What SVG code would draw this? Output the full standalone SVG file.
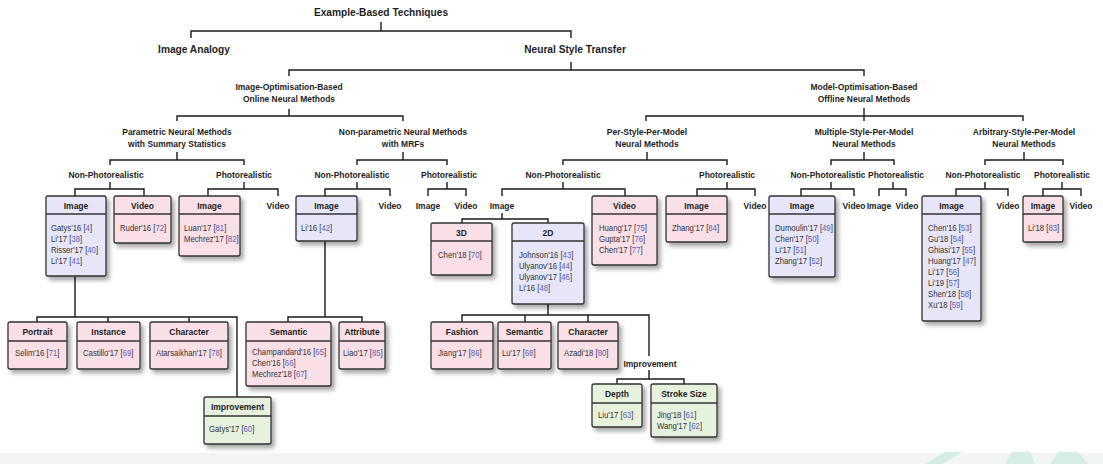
<svg xmlns="http://www.w3.org/2000/svg" width="1103" height="464" viewBox="0 0 1103 464">
<defs>
<filter id="sh" x="-20%" y="-20%" width="150%" height="150%">
<feDropShadow dx="3" dy="3.5" stdDeviation="2" flood-color="#000" flood-opacity="0.35"/>
</filter>
<style>
.t{font-family:'Liberation Sans',Arial,sans-serif;font-weight:bold;fill:#1e1e1e;text-anchor:middle;transform-box:fill-box;transform-origin:center;transform:scaleX(0.9)}
.t0{font-size:11.3px}
.t1{font-size:9.4px}
.b{font-family:'Liberation Sans',Arial,sans-serif;font-size:8.6px;fill:#333;transform-box:fill-box;transform-origin:left center;transform:scaleX(0.9)}
.r{fill:#5c5cb8}
.bx{stroke:#333;stroke-width:1.3;filter:url(#sh)}
.blue{fill:#e6e6f8}
.pink{fill:#f9dfe6}
.green{fill:#e7f2de}
.sep{stroke:#333;stroke-width:1.3}
.c path{fill:none;stroke:#1a1a1a;stroke-width:1.4}
</style>
</defs>
<rect x="0" y="0" width="1103" height="464" fill="#fff"/>
<rect x="0" y="453" width="1103" height="11" fill="#f3f4f4"/>
<g fill="#d6ede6">
<polygon points="925,464 945,452 962,452 942,464"/>
<polygon points="1005,464 1012,452 1030,452 1035,464"/>
<polygon points="1050,464 1058,452 1078,452 1088,464"/>
</g>

<g id="connectors" class="c">
<path d="M381,22V31M191,38V31H571V38"/>
<path d="M571,62V70M289,76V70H864V76"/>
<path d="M289,109V116M177,121V116H403V121"/>
<path d="M864,108V121M646,121V116H1023V121"/>
<path d="M177,152V160M110,165V160H244V165"/>
<path d="M403,152V160M357,165V160H447V165"/>
<path d="M647,152V160M563,165V160H727V165"/>
<path d="M864,152V160M831,165V160H894V165"/>
<path d="M1024,152V160M985,165V160H1063V165"/>
<path d="M110,182V189M75,196V189H144V196"/>
<path d="M244,182V189M208,196V189H278V196"/>
<path d="M357,182V189M325,196V189H390V196"/>
<path d="M447,182V189M428,196V189H466V196"/>
<path d="M563,182V189M502,196V189H625V196"/>
<path d="M727,182V189M697,196V189H755V196"/>
<path d="M831,182V189M801,196V189H854V196"/>
<path d="M893,182V189M879,196V189H906V196"/>
<path d="M985,182V189M956,196V189H1008V196"/>
<path d="M1062,182V189M1043,196V189H1081V196"/>
<path d="M502,213V219M462,223V219H548V223"/>
<path d="M75,276V317M37,322V317H237V397M108,317V322M189,317V322"/>
<path d="M325,241V317M288,322V317H362V322"/>
<path d="M548,304V315M462,322V315H649V356M525,315V322M588,315V322"/>
<path d="M649,370V379M617,384V379H684V384"/>
</g>

<g id="n-root"><text class="t t0" x="381" y="16">Example-Based Techniques</text></g>
<g id="n-analogy"><text class="t t0" x="194" y="53.5">Image Analogy</text></g>
<g id="n-nst"><text class="t t0" x="575" y="53.5">Neural Style Transfer</text></g>
<g id="n-online"><text class="t t1" x="289" y="90"><tspan x="289">Image-Optimisation-Based</tspan><tspan x="289" dy="12.3">Online Neural Methods</tspan></text></g>
<g id="n-offline"><text class="t t1" x="864" y="90"><tspan x="864">Model-Optimisation-Based</tspan><tspan x="864" dy="12.3">Offline Neural Methods</tspan></text></g>
<g id="n-param"><text class="t t1" x="177" y="135"><tspan x="177">Parametric Neural Methods</tspan><tspan x="177" dy="12.3">with Summary Statistics</tspan></text></g>
<g id="n-mrf"><text class="t t1" x="403" y="135"><tspan x="403">Non-parametric Neural Methods</tspan><tspan x="403" dy="12.3">with MRFs</tspan></text></g>
<g id="n-pspm"><text class="t t1" x="647" y="135"><tspan x="647">Per-Style-Per-Model</tspan><tspan x="647" dy="12.3">Neural Methods</tspan></text></g>
<g id="n-mspm"><text class="t t1" x="864" y="135"><tspan x="864">Multiple-Style-Per-Model</tspan><tspan x="864" dy="12.3">Neural Methods</tspan></text></g>
<g id="n-aspm"><text class="t t1" x="1024" y="135"><tspan x="1024">Arbitrary-Style-Per-Model</tspan><tspan x="1024" dy="12.3">Neural Methods</tspan></text></g>

<g id="n-param-np"><text class="t t1" x="106" y="178">Non-Photorealistic</text></g>
<g id="n-param-p"><text class="t t1" x="244" y="178">Photorealistic</text></g>
<g id="n-mrf-np"><text class="t t1" x="352" y="178">Non-Photorealistic</text></g>
<g id="n-mrf-p"><text class="t t1" x="449" y="178">Photorealistic</text></g>
<g id="n-pspm-np"><text class="t t1" x="563" y="178">Non-Photorealistic</text></g>
<g id="n-pspm-p"><text class="t t1" x="727" y="178">Photorealistic</text></g>
<g id="n-mspm-np"><text class="t t1" x="828" y="178">Non-Photorealistic</text></g>
<g id="n-mspm-p"><text class="t t1" x="896" y="178">Photorealistic</text></g>
<g id="n-aspm-np"><text class="t t1" x="983" y="178">Non-Photorealistic</text></g>
<g id="n-aspm-p"><text class="t t1" x="1062" y="178">Photorealistic</text></g>

<g id="n-param-np-image">
<rect class="bx blue" x="46" y="196" width="60" height="80" rx="2"/><line class="sep" x1="46" y1="214" x2="106" y2="214"/>
<text class="t t1" x="76" y="209">Image</text>
<text class="b" x="51" y="231.5">Gatys'16 [<tspan class="r">4</tspan>]</text>
<text class="b" x="51" y="242.5">Li'17 [<tspan class="r">38</tspan>]</text>
<text class="b" x="51" y="253.5">Risser'17 [<tspan class="r">40</tspan>]</text>
<text class="b" x="51" y="264.5">Li'17 [<tspan class="r">41</tspan>]</text>
</g>
<g id="n-param-np-video">
<rect class="bx pink" x="114" y="196" width="57" height="47" rx="2"/><line class="sep" x1="114" y1="214" x2="171" y2="214"/>
<text class="t t1" x="142.5" y="209">Video</text>
<text class="b" x="120" y="231.5">Ruder'16 [<tspan class="r">72</tspan>]</text>
</g>
<g id="n-param-p-image">
<rect class="bx pink" x="179" y="196" width="61" height="60" rx="2"/><line class="sep" x1="179" y1="214" x2="240" y2="214"/>
<text class="t t1" x="209.5" y="209">Image</text>
<text class="b" x="184" y="231.5">Luan'17 [<tspan class="r">81</tspan>]</text>
<text class="b" x="184" y="242.5">Mechrez'17 [<tspan class="r">82</tspan>]</text>
</g>
<g id="n-param-p-video"><text class="t t1" x="278" y="209">Video</text></g>

<g id="n-mrf-np-image">
<rect class="bx blue" x="296" y="196" width="61" height="45" rx="2"/><line class="sep" x1="296" y1="214" x2="357" y2="214"/>
<text class="t t1" x="326.5" y="209">Image</text>
<text class="b" x="301" y="231.5">Li'16 [<tspan class="r">42</tspan>]</text>
</g>
<g id="n-mrf-np-video"><text class="t t1" x="390" y="209">Video</text></g>
<g id="n-mrf-p-image"><text class="t t1" x="428" y="209">Image</text></g>
<g id="n-mrf-p-video"><text class="t t1" x="466" y="209">Video</text></g>

<g id="n-pspm-np-image"><text class="t t1" x="502" y="209">Image</text></g>
<g id="n-pspm-np-video">
<rect class="bx pink" x="592" y="196" width="65" height="69" rx="2"/><line class="sep" x1="592" y1="214" x2="657" y2="214"/>
<text class="t t1" x="624.5" y="209">Video</text>
<text class="b" x="599" y="231.5">Huang'17 [<tspan class="r">75</tspan>]</text>
<text class="b" x="599" y="242.5">Gupta'17 [<tspan class="r">76</tspan>]</text>
<text class="b" x="599" y="253.5">Chen'17 [<tspan class="r">77</tspan>]</text>
</g>
<g id="n-3d">
<rect class="bx pink" x="431" y="223" width="61" height="52" rx="2"/><line class="sep" x1="431" y1="241" x2="492" y2="241"/>
<text class="t t1" x="461.5" y="236.5">3D</text>
<text class="b" x="438" y="258.5">Chen'18 [<tspan class="r">70</tspan>]</text>
</g>
<g id="n-2d">
<rect class="bx blue" x="512" y="223" width="72" height="81" rx="2"/><line class="sep" x1="512" y1="241" x2="584" y2="241"/>
<text class="t t1" x="548" y="236.5">2D</text>
<text class="b" x="519" y="258.5">Johnson'16 [<tspan class="r">43</tspan>]</text>
<text class="b" x="519" y="269.5">Ulyanov'16 [<tspan class="r">44</tspan>]</text>
<text class="b" x="519" y="280.5">Ulyanov'17 [<tspan class="r">46</tspan>]</text>
<text class="b" x="519" y="291.5">Li'16 [<tspan class="r">48</tspan>]</text>
</g>
<g id="n-pspm-p-image">
<rect class="bx pink" x="666" y="196" width="61" height="46" rx="2"/><line class="sep" x1="666" y1="214" x2="727" y2="214"/>
<text class="t t1" x="696.5" y="209">Image</text>
<text class="b" x="672" y="231.5">Zhang'17 [<tspan class="r">84</tspan>]</text>
</g>
<g id="n-pspm-p-video"><text class="t t1" x="755" y="209">Video</text></g>

<g id="n-mspm-np-image">
<rect class="bx blue" x="769" y="196" width="66" height="81" rx="2"/><line class="sep" x1="769" y1="214" x2="835" y2="214"/>
<text class="t t1" x="802" y="209">Image</text>
<text class="b" x="775" y="231.5">Dumoulin'17 [<tspan class="r">49</tspan>]</text>
<text class="b" x="775" y="242.5">Chen'17 [<tspan class="r">50</tspan>]</text>
<text class="b" x="775" y="253.5">Li'17 [<tspan class="r">51</tspan>]</text>
<text class="b" x="775" y="264.5">Zhang'17 [<tspan class="r">52</tspan>]</text>
</g>
<g id="n-mspm-np-video"><text class="t t1" x="854" y="209">Video</text></g>
<g id="n-mspm-p-image"><text class="t t1" x="879" y="209">Image</text></g>
<g id="n-mspm-p-video"><text class="t t1" x="907" y="209">Video</text></g>

<g id="n-aspm-np-image">
<rect class="bx blue" x="922" y="196" width="59" height="125" rx="2"/><line class="sep" x1="922" y1="214" x2="981" y2="214"/>
<text class="t t1" x="951.5" y="209">Image</text>
<text class="b" x="928" y="231.5">Chen'16 [<tspan class="r">53</tspan>]</text>
<text class="b" x="928" y="242.5">Gu'18 [<tspan class="r">54</tspan>]</text>
<text class="b" x="928" y="253.5">Ghiasi'17 [<tspan class="r">55</tspan>]</text>
<text class="b" x="928" y="264.5">Huang'17 [<tspan class="r">47</tspan>]</text>
<text class="b" x="928" y="275.5">Li'17 [<tspan class="r">56</tspan>]</text>
<text class="b" x="928" y="286.5">Li'19 [<tspan class="r">57</tspan>]</text>
<text class="b" x="928" y="297.5">Shen'18 [<tspan class="r">58</tspan>]</text>
<text class="b" x="928" y="308.5">Xu'18 [<tspan class="r">59</tspan>]</text>
</g>
<g id="n-aspm-np-video"><text class="t t1" x="1008" y="209">Video</text></g>
<g id="n-aspm-p-image">
<rect class="bx pink" x="1023" y="196" width="40" height="46" rx="2"/><line class="sep" x1="1023" y1="214" x2="1063" y2="214"/>
<text class="t t1" x="1043" y="209">Image</text>
<text class="b" x="1028" y="231.5">Li'18 [<tspan class="r">83</tspan>]</text>
</g>
<g id="n-aspm-p-video"><text class="t t1" x="1081" y="209">Video</text></g>

<g id="n-portrait">
<rect class="bx pink" x="8" y="322" width="59" height="47" rx="2"/><line class="sep" x1="8" y1="341" x2="67" y2="341"/>
<text class="t t1" x="37.5" y="335.5">Portrait</text>
<text class="b" x="15" y="356">Selim'16 [<tspan class="r">71</tspan>]</text>
</g>
<g id="n-instance">
<rect class="bx pink" x="77" y="322" width="63" height="47" rx="2"/><line class="sep" x1="77" y1="341" x2="140" y2="341"/>
<text class="t t1" x="108.5" y="335.5">Instance</text>
<text class="b" x="83" y="356">Castillo'17 [<tspan class="r">69</tspan>]</text>
</g>
<g id="n-character1">
<rect class="bx pink" x="150" y="322" width="78" height="47" rx="2"/><line class="sep" x1="150" y1="341" x2="228" y2="341"/>
<text class="t t1" x="189" y="335.5">Character</text>
<text class="b" x="156" y="356">Atarsaikhan'17 [<tspan class="r">78</tspan>]</text>
</g>
<g id="n-improvement1">
<rect class="bx green" x="204" y="397" width="67" height="47" rx="2"/><line class="sep" x1="204" y1="416" x2="271" y2="416"/>
<text class="t t1" x="237.5" y="410.5">Improvement</text>
<text class="b" x="209" y="432">Gatys'17 [<tspan class="r">60</tspan>]</text>
</g>
<g id="n-semantic1">
<rect class="bx pink" x="246" y="322" width="85" height="64" rx="2"/><line class="sep" x1="246" y1="341" x2="331" y2="341"/>
<text class="t t1" x="288.5" y="335.5">Semantic</text>
<text class="b" x="252" y="355">Champandard'16 [<tspan class="r">65</tspan>]</text>
<text class="b" x="252" y="366">Chen'16 [<tspan class="r">66</tspan>]</text>
<text class="b" x="252" y="377">Mechrez'18 [<tspan class="r">67</tspan>]</text>
</g>
<g id="n-attribute">
<rect class="bx pink" x="339" y="322" width="46" height="47" rx="2"/><line class="sep" x1="339" y1="341" x2="385" y2="341"/>
<text class="t t1" x="362" y="335.5">Attribute</text>
<text class="b" x="343" y="356">Liao'17 [<tspan class="r">85</tspan>]</text>
</g>

<g id="n-fashion">
<rect class="bx pink" x="431" y="322" width="62" height="47" rx="2"/><line class="sep" x1="431" y1="341" x2="493" y2="341"/>
<text class="t t1" x="462" y="335.5">Fashion</text>
<text class="b" x="438" y="356">Jiang'17 [<tspan class="r">86</tspan>]</text>
</g>
<g id="n-semantic2">
<rect class="bx pink" x="498" y="322" width="53" height="47" rx="2"/><line class="sep" x1="498" y1="341" x2="551" y2="341"/>
<text class="t t1" x="524.5" y="335.5">Semantic</text>
<text class="b" x="502" y="356">Lu'17 [<tspan class="r">68</tspan>]</text>
</g>
<g id="n-character2">
<rect class="bx pink" x="558" y="322" width="60" height="47" rx="2"/><line class="sep" x1="558" y1="341" x2="618" y2="341"/>
<text class="t t1" x="588" y="335.5">Character</text>
<text class="b" x="564" y="356">Azadi'18 [<tspan class="r">80</tspan>]</text>
</g>
<g id="n-improvement2"><text class="t t1" x="650" y="367">Improvement</text></g>
<g id="n-depth">
<rect class="bx green" x="592" y="384" width="50" height="43" rx="2"/><line class="sep" x1="592" y1="403" x2="642" y2="403"/>
<text class="t t1" x="617" y="397.5">Depth</text>
<text class="b" x="598" y="418">Liu'17 [<tspan class="r">63</tspan>]</text>
</g>
<g id="n-stroke">
<rect class="bx green" x="651" y="384" width="66" height="53" rx="2"/><line class="sep" x1="651" y1="403" x2="717" y2="403"/>
<text class="t t1" x="684" y="397.5">Stroke Size</text>
<text class="b" x="657" y="418">Jing'18 [<tspan class="r">61</tspan>]</text>
<text class="b" x="657" y="429">Wang'17 [<tspan class="r">62</tspan>]</text>
</g>
</svg>
